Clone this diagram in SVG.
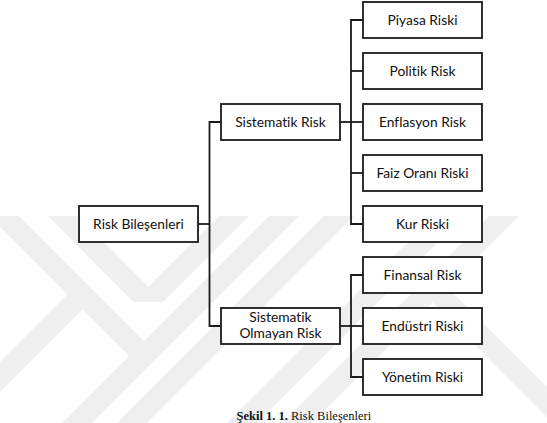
<svg xmlns="http://www.w3.org/2000/svg" width="547" height="423" viewBox="0 0 547 423">
  <style>
    .box { fill: #ffffff; stroke: #1a1a1a; stroke-width: 1.8; }
    .lbl { font-family: Lato, "Open Sans", "Liberation Sans", sans-serif; font-size: 13.8px; fill: #111111; text-anchor: middle; font-variant-ligatures: none; font-feature-settings: "liga" 0, "clig" 0; }
    .wire { fill: none; stroke: #1a1a1a; stroke-width: 1.8; }
    .wm { fill: #efefef; }
    .cap { font-family: "Liberation Serif", "Times New Roman", serif; font-size: 12.5px; fill: #111111; }
  </style>
  <defs>
    <clipPath id="wmclip"><rect x="0" y="216" width="547" height="207"/></clipPath>
  </defs>
  <rect width="547" height="423" fill="#ffffff"/>
  <g id="watermark" clip-path="url(#wmclip)">
    <polygon class="wm" points="-11,216 19,216 159,356 129,356"/>
    <polygon class="wm" points="48,216 78,216 163,301.5 133,301.5"/>
    <polygon class="wm" points="97.5,294.5 67.5,294.5 -61,423 -31,423"/>
    <polygon class="wm" points="219,216 249,216 163,302 133,302"/>
    <polygon class="wm" points="269,216 299,216 92,423 62,423"/>
    <polygon class="wm" points="324,216 354,216 147,423 117,423"/>
    <polygon class="wm" points="434,216 464,216 257,423 227,423"/>
    <polygon class="wm" points="489,216 519,216 312,423 282,423"/>
    <polygon class="wm" points="387,257 417,257 583,423 553,423"/>
  </g>
  <g id="connectors">
    <polyline class="wire" points="198,224 209.5,224"/>
    <polyline class="wire" points="221,122 209.5,122 209.5,326 221,326"/>
    <polyline class="wire" points="340,122 363,122"/>
    <polyline class="wire" points="363,20 351,20 351,224 363,224"/>
    <polyline class="wire" points="351,71 363,71"/>
    <polyline class="wire" points="351,173 363,173"/>
    <polyline class="wire" points="340,326 363,326"/>
    <polyline class="wire" points="363,275 351,275 351,377 363,377"/>
  </g>
  <g id="risk-bilesenleri">
    <rect class="box" x="79" y="206" width="119" height="36"/>
    <text class="lbl" x="138.5" y="229">Risk Bileşenleri</text>
  </g>
  <g id="sistematik-risk">
    <rect class="box" x="221" y="104" width="119" height="36"/>
    <text class="lbl" x="280.5" y="127">Sistematik Risk</text>
  </g>
  <g id="sistematik-olmayan-risk">
    <rect class="box" x="221" y="308" width="119" height="36"/>
    <text class="lbl" x="280.5" y="321.5">Sistematik</text>
    <text class="lbl" x="280.5" y="337.5">Olmayan Risk</text>
  </g>
  <g id="piyasa-riski">
    <rect class="box" x="363" y="2" width="119" height="36"/>
    <text class="lbl" x="422.5" y="25">Piyasa Riski</text>
  </g>
  <g id="politik-risk">
    <rect class="box" x="363" y="53" width="119" height="36"/>
    <text class="lbl" x="422.5" y="76">Politik Risk</text>
  </g>
  <g id="enflasyon-risk">
    <rect class="box" x="363" y="104" width="119" height="36"/>
    <text class="lbl" x="422.5" y="127">Enflasyon Risk</text>
  </g>
  <g id="faiz-orani-riski">
    <rect class="box" x="363" y="155" width="119" height="36"/>
    <text class="lbl" x="422.5" y="178">Faiz Oranı Riski</text>
  </g>
  <g id="kur-riski">
    <rect class="box" x="363" y="206" width="119" height="36"/>
    <text class="lbl" x="422.5" y="229">Kur Riski</text>
  </g>
  <g id="finansal-risk">
    <rect class="box" x="363" y="257" width="119" height="36"/>
    <text class="lbl" x="422.5" y="280">Finansal Risk</text>
  </g>
  <g id="endustri-riski">
    <rect class="box" x="363" y="308" width="119" height="36"/>
    <text class="lbl" x="422.5" y="331">Endüstri Riski</text>
  </g>
  <g id="yonetim-riski">
    <rect class="box" x="363" y="359" width="119" height="36"/>
    <text class="lbl" x="422.5" y="382">Yönetim Riski</text>
  </g>
  <text class="cap" x="236.5" y="420"><tspan font-weight="bold">Şekil 1. 1.</tspan> Risk Bileşenleri</text>
</svg>
